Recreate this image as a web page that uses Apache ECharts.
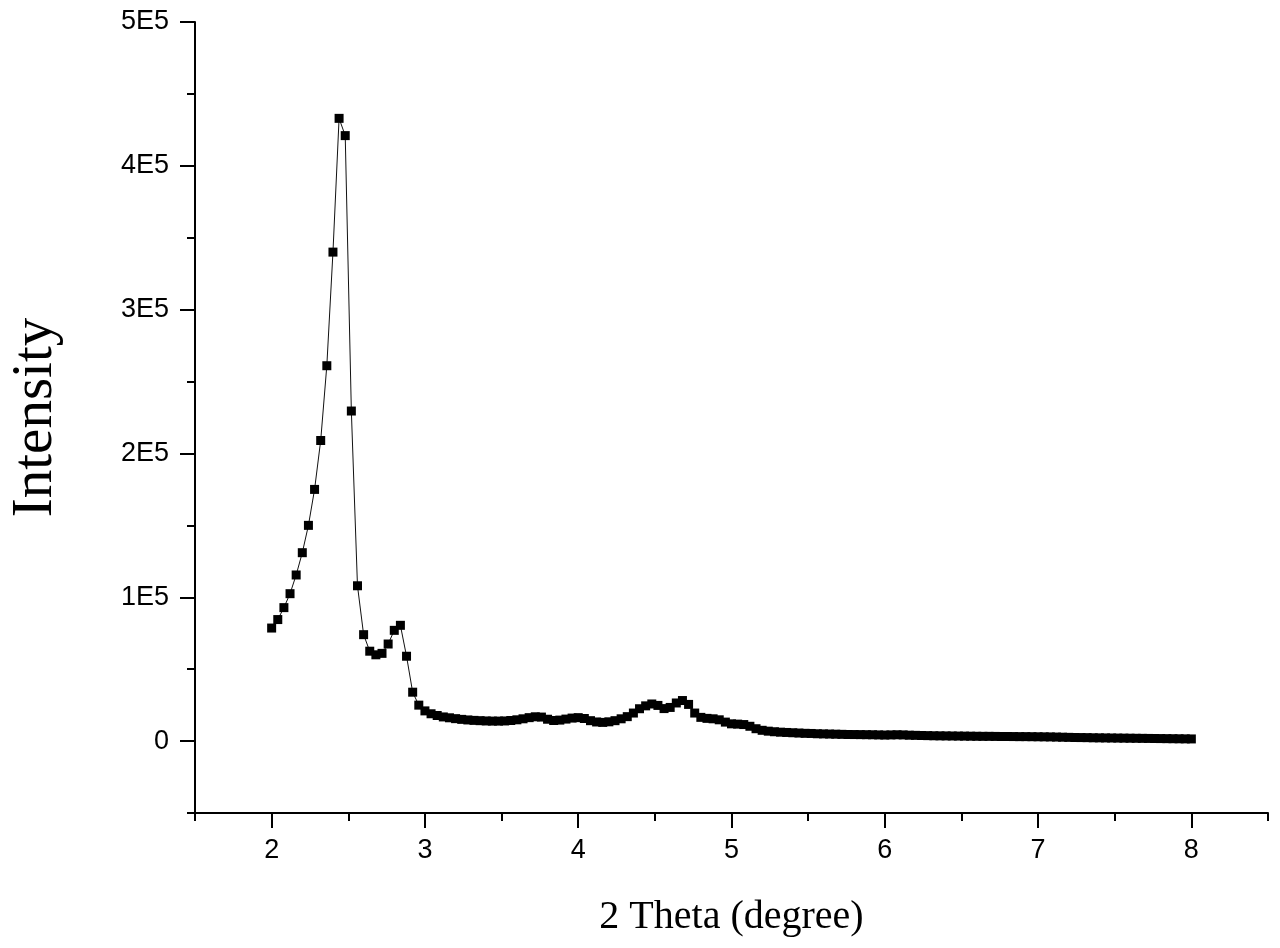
<!DOCTYPE html>
<html>
<head>
<meta charset="utf-8">
<script src="https://cdn.jsdelivr.net/npm/echarts@6/dist/echarts.min.js"></script>
<style>html,body{margin:0;padding:0;background:#fff}#c{width:1280px;height:948px}</style>
</head>
<body>
<div id="c"></div>
<script>
var twoTheta = [
2,2.04,2.08,2.12,2.16,2.2,2.24,2.28,2.32,2.36,2.4,2.44,2.48,2.52,2.56,2.6,2.64,2.68,2.72,2.76,2.8,2.84,2.88,2.92,2.96,
3,3.04,3.08,3.12,3.16,3.2,3.24,3.28,3.32,3.36,3.4,3.44,3.48,3.52,3.56,3.6,3.64,3.68,3.72,3.76,3.8,3.84,3.88,3.92,3.96,
4,4.04,4.08,4.12,4.16,4.2,4.24,4.28,4.32,4.36,4.4,4.44,4.48,4.52,4.56,4.6,4.64,4.68,4.72,4.76,4.8,4.84,4.88,4.92,4.96,
5,5.04,5.08,5.12,5.16,5.2,5.24,5.28,5.32,5.36,5.4,5.44,5.48,5.52,5.56,5.6,5.64,5.68,5.72,5.76,5.8,5.84,5.88,5.92,5.96,
6,6.04,6.08,6.12,6.16,6.2,6.24,6.28,6.32,6.36,6.4,6.44,6.48,6.52,6.56,6.6,6.64,6.68,6.72,6.76,6.8,6.84,6.88,6.92,6.96,
7,7.04,7.08,7.12,7.16,7.2,7.24,7.28,7.32,7.36,7.4,7.44,7.48,7.52,7.56,7.6,7.64,7.68,7.72,7.76,7.8,7.84,7.88,7.92,7.96,
8];
var intensity = [
78600,84500,92800,102500,115500,131000,150000,175000,209000,261000,340000,433000,421000,229500,108000,74000,62500,60000,61000,67500,77000,80500,59000,34000,25000,
21000,19000,17800,16800,16200,15600,15100,14700,14400,14200,14000,13900,13900,14000,14300,14800,15500,16300,16900,16700,15200,14300,14600,15300,16000,
16300,15700,14200,13300,13000,13400,14200,15500,17000,19500,22500,24500,25800,24800,22600,23400,26500,28200,25500,19500,16500,15800,15500,14800,13200,
12000,11800,11500,10300,8600,7500,6900,6500,6200,6000,5800,5600,5400,5300,5100,5000,4900,4800,4700,4600,4550,4500,4450,4400,4300,
4200,4300,4400,4300,4100,4000,3900,3800,3700,3650,3600,3550,3500,3450,3400,3350,3300,3300,3250,3200,3200,3150,3100,3100,3050,
3000,2950,2900,2800,2700,2600,2500,2450,2400,2300,2250,2200,2150,2100,2050,2000,1950,1900,1850,1800,1750,1700,1650,1600,1550,
1500];
var xMajorTicks = [2,3,4,5,6,7,8];
var xMinorTicks = [1.5,2.5,3.5,4.5,5.5,6.5,7.5,8.5];
var yMajorTicks = [0,100000,200000,300000,400000,500000];
var yTickLabels = ['0','1E5','2E5','3E5','4E5','5E5'];
var yMinorTicks = [-50000,50000,150000,250000,350000,450000];

var data = twoTheta.map(function(x,i){return [x,intensity[i]];});
var labelFont = {fontFamily:'Arial, "Liberation Sans", sans-serif', fontSize:27, color:'#000'};
var chart = echarts.init(document.getElementById('c'), null, {renderer:'canvas'});
chart.setOption({
  animation:false,
  backgroundColor:'#fff',
  grid:{left:193,right:12,top:22,bottom:135,containLabel:false},
  xAxis:[{
    type:'value',min:1.5,max:8.5,interval:0.5,
    name:'2 Theta (degree)',nameLocation:'middle',nameGap:84,
    nameTextStyle:{fontFamily:'"Times New Roman","Liberation Serif",serif',fontSize:40,color:'#000'},
    axisLine:{show:true,onZero:false,lineStyle:{color:'#000',width:2}},
    axisTick:{show:true,inside:false,length:15,customValues:xMajorTicks,lineStyle:{color:'#000',width:2}},
    axisLabel:Object.assign({show:true,margin:24,customValues:xMajorTicks,formatter:function(v){return String(v);}},labelFont),
    splitLine:{show:false}
  },{
    type:'value',min:1.5,max:8.5,interval:0.5,position:'bottom',
    axisLine:{show:false,onZero:false},
    axisTick:{show:true,inside:false,length:8,customValues:xMinorTicks,lineStyle:{color:'#000',width:2}},
    axisLabel:{show:false},splitLine:{show:false}
  }],
  yAxis:[{
    type:'value',min:-50000,max:500000,interval:50000,
    name:'Intensity',nameLocation:'middle',nameGap:130,nameRotate:90,
    nameTextStyle:{fontFamily:'"Times New Roman","Liberation Serif",serif',fontSize:57,color:'#000'},
    axisLine:{show:true,onZero:false,lineStyle:{color:'#000',width:2}},
    axisTick:{show:true,inside:false,length:15,customValues:yMajorTicks,lineStyle:{color:'#000',width:2}},
    axisLabel:Object.assign({show:true,margin:26,customValues:yMajorTicks,formatter:function(v){var i=yMajorTicks.indexOf(v);return i>=0?yTickLabels[i]:'';}},labelFont),
    splitLine:{show:false}
  },{
    type:'value',min:-50000,max:500000,interval:50000,position:'left',
    axisLine:{show:false,onZero:false},
    axisTick:{show:true,inside:false,length:8,customValues:yMinorTicks,lineStyle:{color:'#000',width:2}},
    axisLabel:{show:false},splitLine:{show:false}
  }],
  series:[{
    type:'line',xAxisIndex:0,yAxisIndex:0,data:data,
    symbol:'rect',symbolSize:9,showAllSymbol:true,
    itemStyle:{color:'#000'},
    lineStyle:{color:'#111',width:1},
    z:3
  }]
});
</script>
</body>
</html>
